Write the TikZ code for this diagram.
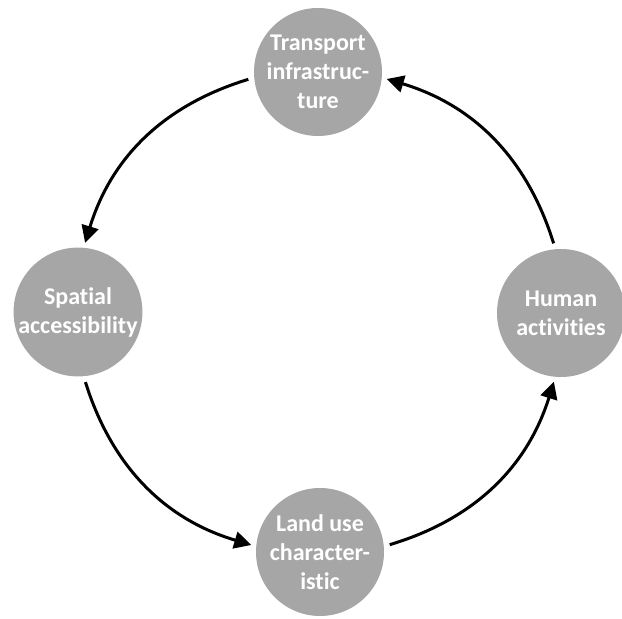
\documentclass[tikz,border=0pt]{standalone}
\usepackage{fontspec}
\setmainfont{Carlito}[RawFeature=-liga]
\usetikzlibrary{arrows.meta}
\definecolor{discgrey}{RGB}{166,166,166}
\begin{document}
\begin{tikzpicture}[x=1pt,y=1pt,
  disc/.style={circle,fill=discgrey,minimum size=128pt,inner sep=0pt,
    text=white,font=\bfseries\fontsize{24}{29}\selectfont,align=center},
  cyc/.style={line width=3pt,-{Triangle[length=17pt,width=17pt]},
    shorten <=6pt,shorten >=5pt}]
\useasboundingbox (0,0) rectangle (622,619);
% the four stages of the cycle
\node[disc] (t) at (318,547) {Transport\\infrastruc-\\ture};
\node[disc] (l) at (78,307) {Spatial\\accessibility};
\node[disc] (r) at (561,306) {Human\\activities};
\node[disc] (b) at (320,67) {Land use\\character-\\istic};
% curved arrows running round the cycle
\draw[cyc] (t.185) to[bend right=28] (l.85);
\draw[cyc] (l.275) to[bend right=28] (b.175);
\draw[cyc] (b.5) to[bend right=28] (r.265);
\draw[cyc] (r.95) to[bend right=28] (t.355);
\end{tikzpicture}
\end{document}
